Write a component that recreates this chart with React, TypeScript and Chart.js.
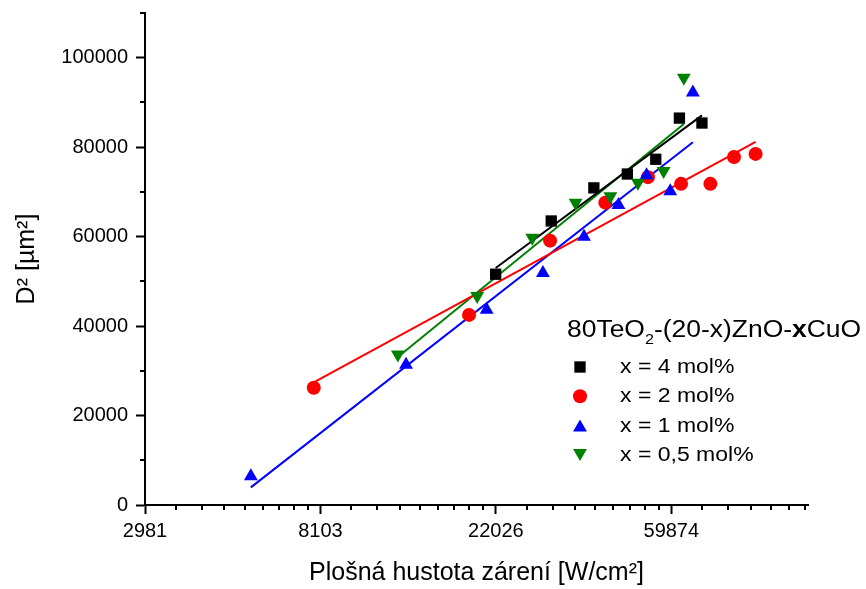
import React, { useEffect, useRef } from 'react';
import { Chart, registerables } from 'chart.js';

Chart.register(...registerables);

const FONT = "'Liberation Sans', Arial, sans-serif";

// ---- data (power density [W/cm2], D^2 [um^2]) ----
const SERIES_LABELS = ['x = 4 mol%', 'x = 2 mol%', 'x = 1 mol%', 'x = 0,5 mol%'];
const SERIES_COLORS = ['#000000', '#FF0000', '#0000FF', '#008000'];

const X_4 = [22000, 30200, 38500, 46600, 54800, 62700, 71300];
const Y_4 = [51600, 63500, 70900, 74000, 77300, 86500, 85400];

const X_2 = [7800, 18900, 30000, 41100, 52400, 63300, 74800, 85600, 96800];
const Y_2 = [26200, 42500, 59100, 67600, 73300, 71800, 71800, 77800, 78500];

const X_1 = [5450, 13200, 20900, 28800, 36400, 44300, 52000, 59500, 67700];
const Y_1 = [6450, 31350, 43650, 51850, 59950, 67050, 73750, 70150, 92250];

const X_05 = [12600, 19800, 27100, 34700, 42300, 49500, 57300, 64300];
const Y_05 = [33650, 46750, 59750, 67550, 69050, 72050, 74650, 95550];

// ---- axes ----
const X_TICKS = [2981, 8103, 22026, 59874, 162755];
const X_MIN = 2981;
const X_MAX = 130500;
const Y_TICKS = [0, 20000, 40000, 60000, 80000, 100000];
const Y_MINOR_TICKS = [10000, 30000, 50000, 70000, 90000, 110000];
const Y_MIN = 0;
const Y_MAX = 110000;

const X_TITLE = 'Plošná hustota zárení [W/cm²]';
const Y_TITLE = 'D² [µm²]';

function toPoints(xs: number[], ys: number[]) {
  return xs.map((x, i) => ({ x, y: ys[i] }));
}

// least-squares fit of y against ln(x), drawn over the data range
function fitLine(xs: number[], ys: number[]) {
  const n = xs.length;
  const L = xs.map((v) => Math.log(v));
  const mL = L.reduce((a, b) => a + b, 0) / n;
  const mY = ys.reduce((a, b) => a + b, 0) / n;
  let sxy = 0;
  let sxx = 0;
  for (let i = 0; i < n; i++) {
    sxy += (L[i] - mL) * (ys[i] - mY);
    sxx += (L[i] - mL) * (L[i] - mL);
  }
  const b = sxy / sxx;
  const a = mY - b * mL;
  const x0 = Math.min(...xs);
  const x1 = Math.max(...xs);
  return [
    { x: x0, y: a + b * Math.log(x0) },
    { x: x1, y: a + b * Math.log(x1) },
  ];
}

function xMinorTicks(): number[] {
  const out: number[] = [];
  for (let i = 0; i < X_TICKS.length - 1; i++) {
    const step = (X_TICKS[i + 1] - X_TICKS[i]) / 9;
    for (let j = 1; j <= 8; j++) {
      const v = X_TICKS[i] + j * step;
      if (v <= X_MAX) out.push(v);
    }
  }
  return out;
}

function drawMarker(ctx: CanvasRenderingContext2D, style: string, x: number, y: number, r: number, rot: number, color: string) {
  ctx.fillStyle = color;
  ctx.beginPath();
  if (style === 'rect') {
    const s = r * Math.SQRT1_2;
    ctx.rect(x - s, y - s, 2 * s, 2 * s);
  } else if (style === 'circle') {
    ctx.arc(x, y, r, 0, Math.PI * 2);
  } else {
    let a = (rot * Math.PI) / 180;
    ctx.moveTo(x + Math.sin(a) * r, y - Math.cos(a) * r);
    a += (2 * Math.PI) / 3;
    ctx.lineTo(x + Math.sin(a) * r, y - Math.cos(a) * r);
    a += (2 * Math.PI) / 3;
    ctx.lineTo(x + Math.sin(a) * r, y - Math.cos(a) * r);
    ctx.closePath();
  }
  ctx.fill();
}

const MARKERS = [
  { style: 'rect', r: 8, rot: 0 },
  { style: 'circle', r: 7, rot: 0 },
  { style: 'triangle', r: 8, rot: 0 },
  { style: 'triangle', r: 8, rot: 180 },
];

const extrasPlugin = {
  id: 'extras',
  afterDraw(chart: any) {
    const ctx: CanvasRenderingContext2D = chart.ctx;
    const xs = chart.scales.x;
    const ys = chart.scales.y;
    const area = chart.chartArea;
    ctx.save();
    ctx.strokeStyle = '#000';
    ctx.lineWidth = 2;
    // minor ticks
    ctx.beginPath();
    for (const v of xMinorTicks()) {
      const px = Math.round(xs.getPixelForValue(v));
      ctx.moveTo(px, area.bottom);
      ctx.lineTo(px, area.bottom + 5);
    }
    for (const v of Y_MINOR_TICKS) {
      const py = Math.round(ys.getPixelForValue(v));
      ctx.moveTo(area.left, py);
      ctx.lineTo(area.left - 5, py);
    }
    ctx.stroke();

    // legend
    ctx.fillStyle = '#000';
    ctx.textBaseline = 'alphabetic';
    ctx.textAlign = 'left';
    const stretch = 1.15;
    ctx.save();
    ctx.translate(567, 337);
    ctx.scale(stretch, 1);
    let cx = 0;
    const seg = (t: string, font: string, dy = 0) => {
      ctx.font = font;
      ctx.fillText(t, cx, dy);
      cx += ctx.measureText(t).width;
    };
    seg('80TeO', `23px ${FONT}`);
    seg('2', `14px ${FONT}`, 7);
    seg('-(20-x)ZnO-', `23px ${FONT}`);
    seg('x', `bold 23px ${FONT}`);
    seg('CuO', `23px ${FONT}`);
    ctx.restore();

    const y0 = 367;
    const step = 29.3;
    SERIES_LABELS.forEach((label, i) => {
      const m = MARKERS[i];
      const yc = y0 + i * step;
      const yOff = m.style === 'triangle' ? (m.rot === 0 ? m.r / 4 : -m.r / 4) : 0;
      drawMarker(ctx, m.style, 580, yc + yOff, m.r, m.rot, SERIES_COLORS[i]);
      ctx.save();
      ctx.translate(620, yc + 6);
      ctx.scale(stretch, 1);
      ctx.fillStyle = '#000';
      ctx.font = `20px ${FONT}`;
      ctx.fillText(label, 0, 0);
      ctx.restore();
    });
    ctx.restore();
  },
};

export default function App() {
  const ref = useRef<HTMLCanvasElement | null>(null);

  useEffect(() => {
    if (!ref.current) return;
    Chart.defaults.font.family = FONT;
    Chart.defaults.color = '#000';

    const xsArr = [X_4, X_2, X_1, X_05];
    const ysArr = [Y_4, Y_2, Y_1, Y_05];

    const scatterSets = xsArr.map((xs, i) => ({
      type: 'scatter' as const,
      label: SERIES_LABELS[i],
      data: toPoints(xs, ysArr[i]),
      pointStyle: MARKERS[i].style,
      rotation: MARKERS[i].rot,
      pointRadius: MARKERS[i].r,
      pointHoverRadius: MARKERS[i].r,
      backgroundColor: SERIES_COLORS[i],
      borderColor: SERIES_COLORS[i],
      borderWidth: 0,
      showLine: false,
      order: 4 - i,
    }));

    const lineSets = xsArr.map((xs, i) => ({
      type: 'scatter' as const,
      label: SERIES_LABELS[i] + ' fit',
      data: fitLine(xs, ysArr[i]),
      showLine: true,
      borderColor: SERIES_COLORS[i],
      backgroundColor: SERIES_COLORS[i],
      borderWidth: 2,
      pointRadius: 0,
      pointHoverRadius: 0,
      order: 10,
    }));

    const chart = new Chart(ref.current, {
      type: 'scatter',
      data: { datasets: [...lineSets, ...scatterSets] as any },
      options: {
        responsive: false,
        animation: false,
        devicePixelRatio: 1,
        layout: { padding: { top: 13, right: 58, left: 0, bottom: 0 } },
        plugins: {
          legend: { display: false },
          tooltip: { enabled: false },
        },
        scales: {
          x: {
            type: 'logarithmic',
            min: X_MIN,
            max: X_MAX,
            afterBuildTicks: (scale: any) => {
              scale.ticks = X_TICKS.filter((v) => v <= X_MAX).map((v) => ({ value: v }));
            },
            afterFit: (scale: any) => {
              scale.height = 84;
              scale.paddingLeft = 0;
              scale.paddingRight = 0;
            },
            ticks: {
              autoSkip: false,
              maxRotation: 0,
              minRotation: 0,
              padding: 5,
              font: { size: 20, family: FONT },
              color: '#000',
              callback: (v: any) => String(Math.round(Number(v))),
            },
            grid: {
              display: true,
              drawOnChartArea: false,
              drawTicks: true,
              tickLength: 9,
              tickWidth: 2,
              tickColor: '#000',
            },
            border: { display: true, color: '#000', width: 2 },
            title: {
              display: true,
              text: X_TITLE,
              color: '#000',
              font: { size: 25, family: FONT },
              padding: { top: 0, bottom: 1 },
            },
          },
          y: {
            type: 'linear',
            min: Y_MIN,
            max: Y_MAX,
            afterBuildTicks: (scale: any) => {
              scale.ticks = Y_TICKS.map((v) => ({ value: v }));
            },
            afterFit: (scale: any) => {
              scale.width = 145;
              scale.paddingTop = 0;
              scale.paddingBottom = 0;
            },
            ticks: {
              autoSkip: false,
              padding: 8,
              font: { size: 20, family: FONT },
              color: '#000',
              callback: (v: any) => String(v),
            },
            grid: {
              display: true,
              drawOnChartArea: false,
              drawTicks: true,
              tickLength: 9,
              tickWidth: 2,
              tickColor: '#000',
            },
            border: { display: true, color: '#000', width: 2 },
            title: {
              display: true,
              text: Y_TITLE,
              color: '#000',
              font: { size: 25, family: FONT },
              padding: { top: 12, bottom: 0 },
            },
          },
        },
      },
      plugins: [extrasPlugin],
    });

    return () => chart.destroy();
  }, []);

  return (
    <div style={{ position: 'fixed', left: 0, top: 0, width: 866, height: 589, background: '#fff' }}>
      <canvas ref={ref} width={866} height={589} style={{ display: 'block' }} />
    </div>
  );
}
